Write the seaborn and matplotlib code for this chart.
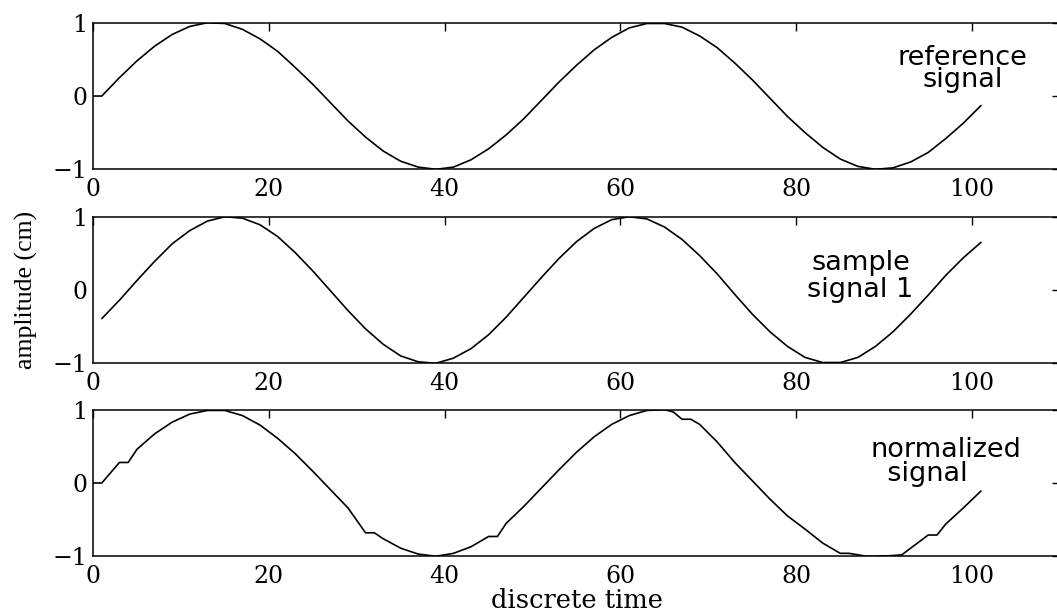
import matplotlib
matplotlib.use("Agg")
import matplotlib.pyplot as plt
import seaborn as sns
import pandas as pd

# --- signals (discrete time, amplitude in cm) ---
ref_time = [0, 1, 3, 5, 7, 9, 11, 13, 15, 17, 19, 21, 23, 25, 27, 29, 31, 33, 35, 37,
            39, 41, 43, 45, 47, 49, 51, 53, 55, 57, 59, 61, 63, 65, 67, 69, 71, 73, 75,
            77, 79, 81, 83, 85, 87, 89, 91, 93, 95, 97, 99, 101]
ref_value = [0.00, 0.00, 0.25, 0.48, 0.68, 0.84, 0.95, 1.00, 0.99, 0.91, 0.78, 0.61,
             0.39, 0.16, -0.09, -0.34, -0.56, -0.75, -0.89, -0.97, -1.00, -0.97, -0.87,
             -0.72, -0.53, -0.31, -0.06, 0.19, 0.42, 0.63, 0.80, 0.93, 0.99, 0.99, 0.94,
             0.82, 0.66, 0.45, 0.22, -0.03, -0.28, -0.50, -0.70, -0.86, -0.96, -1.00,
             -0.98, -0.90, -0.77, -0.58, -0.37, -0.13]

sample_time = [1, 3, 5, 7, 9, 11, 13, 15, 17, 19, 21, 23, 25, 27, 29, 31, 33, 35, 37, 39,
               41, 43, 45, 47, 49, 51, 53, 55, 57, 59, 61, 63, 65, 67, 69, 71, 73, 75, 77,
               79, 81, 83, 85, 87, 89, 91, 93, 95, 97, 99, 101]
sample_value = [-0.39, -0.14, 0.13, 0.39, 0.63, 0.81, 0.94, 1.00, 0.98, 0.89, 0.73, 0.51,
                0.26, -0.01, -0.28, -0.53, -0.74, -0.90, -0.98, -1.00, -0.93, -0.80,
                -0.61, -0.37, -0.10, 0.17, 0.43, 0.66, 0.84, 0.96, 1.00, 0.97, 0.86, 0.69,
                0.47, 0.22, -0.06, -0.33, -0.57, -0.77, -0.92, -0.99, -0.99, -0.92, -0.77,
                -0.57, -0.33, -0.07, 0.20, 0.44, 0.65]

norm_time = [0, 1, 3, 4, 5, 7, 9, 11, 13, 15, 17, 19, 21, 23, 25, 27, 29, 31, 32, 33, 35,
             37, 39, 41, 43, 45, 46, 47, 49, 51, 53, 55, 57, 59, 61, 63, 65, 66, 67, 68,
             69, 71, 73, 75, 77, 79, 81, 83, 85, 86, 88, 89, 91, 92, 93, 95, 96, 97, 99,
             101]
norm_value = [0.00, 0.00, 0.28, 0.28, 0.46, 0.67, 0.83, 0.94, 0.99, 0.99, 0.92, 0.79,
              0.61, 0.40, 0.16, -0.09, -0.34, -0.68, -0.68, -0.76, -0.89, -0.97, -1.00,
              -0.96, -0.87, -0.73, -0.73, -0.55, -0.32, -0.07, 0.18, 0.42, 0.63, 0.80,
              0.92, 0.99, 1.00, 0.97, 0.87, 0.87, 0.80, 0.56, 0.28, 0.03, -0.22, -0.45,
              -0.63, -0.82, -0.96, -0.96, -1.00, -1.00, -0.99, -0.98, -0.89, -0.71, -0.71,
              -0.56, -0.34, -0.11]

x_ticks = [0, 20, 40, 60, 80, 100]
y_ticks = [-1, 0, 1]

# panel captions: text, (time, amplitude) of last baseline, line alignment, spacing
panel_labels = [
    ("reference\nsignal", 98.9, 0.12, "center", 0.82),
    ("sample\nsignal 1", 87.3, -0.10, "center", 1.08),
    ("normalized\n  signal", 97.0, 0.03, "left", 0.9),
]

panels = [
    pd.DataFrame({"time": ref_time, "amplitude": ref_value}),
    pd.DataFrame({"time": sample_time, "amplitude": sample_value}),
    pd.DataFrame({"time": norm_time, "amplitude": norm_value}),
]

sns.set_style("white")
plt.rcParams["axes.linewidth"] = 1.1

fig = plt.figure(figsize=(10.57, 6.15), dpi=100)
left, width, height = 0.088, 0.9149, 0.2383
bottoms = [0.7247, 0.4093, 0.0955]

tick_font = {"family": "DejaVu Serif", "size": 17}

axes = []
for df, bottom, (caption, tx, ty, malign, lsp) in zip(panels, bottoms, panel_labels):
    ax = fig.add_axes([left, bottom, width, height])
    sns.lineplot(data=df, x="time", y="amplitude", ax=ax, color="black",
                 linewidth=1.2, estimator=None, sort=False)
    ax.set_xlim(0, 110)
    ax.set_ylim(-1, 1)
    ax.set_xticks(x_ticks)
    ax.set_yticks(y_ticks)
    ax.set_xticklabels([str(v) for v in x_ticks], fontdict=tick_font)
    ax.set_yticklabels(["\u22121", "0", "1"], fontdict=tick_font)
    ax.tick_params(direction="in", length=6, width=1.0, top=True, right=True,
                   colors="black")
    ax.tick_params(axis="x", pad=6)
    ax.tick_params(axis="y", pad=4)
    ax.set_xlabel("")
    ax.set_ylabel("")
    for s in ax.spines.values():
        s.set_color("black")
        s.set_visible(True)
    ax.text(tx, ty, caption, ha="center", va="baseline", multialignment=malign,
            linespacing=lsp, family="DejaVu Sans", fontsize=19.5, color="black")
    axes.append(ax)

axes[2].set_xlabel("discrete time", family="DejaVu Serif", fontsize=18.5,
                   labelpad=0, color="black")
fig.text(26 / 1057, 1 - 290 / 615, "amplitude (cm)", rotation=90,
         ha="center", va="center", family="Liberation Serif", fontsize=18.5,
         color="black")

fig.savefig("out.png", dpi=100, facecolor="white")
